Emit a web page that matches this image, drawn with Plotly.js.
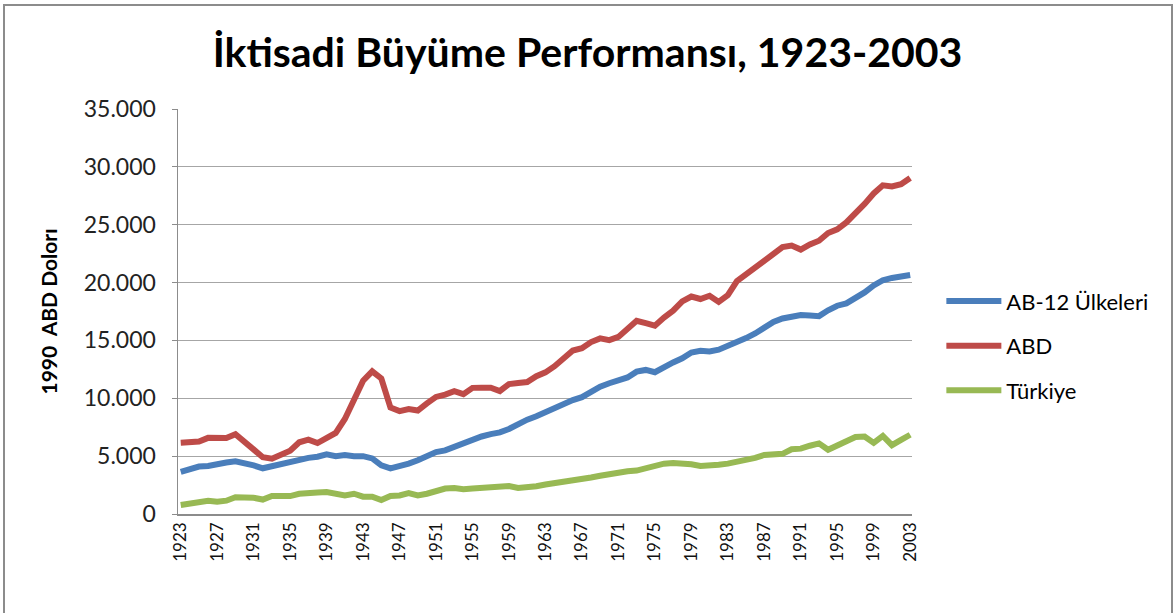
<!DOCTYPE html>
<html><head><meta charset="utf-8">
<script src="https://cdn.plot.ly/plotly-3.0.1.min.js"></script>
<style>
body{margin:0;background:#fff}
#frame{position:absolute;left:3px;top:4px;width:1166px;height:640px;border:2px solid #8c8c8c;pointer-events:none}
</style>
</head><body>
<div id="chart" style="width:1175px;height:613px"></div>
<div id="frame"></div>
<script>
var years = [1923,1924,1925,1926,1927,1928,1929,1930,1931,1932,
1933,1934,1935,1936,1937,1938,1939,1940,1941,1942,
1943,1944,1945,1946,1947,1948,1949,1950,1951,1952,
1953,1954,1955,1956,1957,1958,1959,1960,1961,1962,
1963,1964,1965,1966,1967,1968,1969,1970,1971,1972,
1973,1974,1975,1976,1977,1978,1979,1980,1981,1982,
1983,1984,1985,1986,1987,1988,1989,1990,1991,1992,
1993,1994,1995,1996,1997,1998,1999,2000,2001,2002,2003];

var ab12 = [3650,3850,4100,4150,4350,4450,4550,4400,4200,3950,
4150,4350,4500,4650,4850,4950,5150,5000,5100,5000,
5000,4800,4200,3950,4100,4350,4650,5000,5350,5500,
5800,6100,6450,6700,6900,7050,7350,7800,8150,8450,
8800,9250,9550,9850,10100,10550,11000,11300,11500,11800,
12300,12450,12250,12750,13100,13450,13950,14100,14050,14200,
14500,14800,15200,15600,16100,16600,16900,17000,17200,17150,
17100,17600,18000,18200,18650,19150,19750,20200,20400,20550,20650];

var abd = [6160,6250,6260,6580,6570,6570,6900,6210,5690,4910,
4780,5110,5470,6200,6430,6130,6560,7010,8210,9740,
11520,12330,11710,9200,8890,9070,8940,9560,10120,10320,
10610,10360,10900,10910,10920,10630,11230,11330,11400,11910,
12240,12770,13420,14130,14330,14860,15180,15030,15300,15940,
16690,16490,16280,16980,17570,18370,18790,18580,18860,18330,
18920,20120,20720,21240,21790,22500,23060,23200,22850,23300,
23620,24280,24600,25200,25970,26800,27700,28400,28300,28500,29040];

var turkiye = [780,900,1000,1150,1050,1150,1450,1450,1400,1250,
1550,1550,1550,1750,1750,1850,1900,1750,1600,1750,
1500,1500,1200,1550,1600,1800,1600,1750,2000,2200,
2250,2150,2200,2250,2300,2350,2420,2250,2300,2400,
2550,2650,2800,2900,3050,3150,3300,3450,3600,3700,
3750,3950,4150,4350,4400,4400,4300,4150,4150,4250,
4350,4500,4650,4850,5100,5200,5200,5600,5650,5900,
6100,5550,5950,6350,6650,6700,6150,6750,5950,6400,6850];

var tickYears = [1923,1927,1931,1935,1939,1943,1947,1951,1955,1959,1963,1967,1971,1975,1979,1983,1987,1991,1995,1999,2003];
var tickLabels = ['1923','1927','1931','1935','1939','1943','1947','1951','1955','1959','1963','1967','1971','1975','1979','1983','1987','1991','1995','1999','2003'];

var seriesNames = ['AB-12 Ülkeleri','ABD','Türkiye'];
var seriesColors = ['#4a7ebb','#be4b48','#98b954'];
var seriesData = [ab12, abd, turkiye];

var traces = seriesData.map(function(d,i){
  return {x:years, y:d, type:'scatter', mode:'lines', name:seriesNames[i],
    legendgroup:'g'+i,
    line:{color:seriesColors[i], width:6, shape:'linear'},
    hoverinfo:'skip'};
});

var layout = {
  width:1175, height:613,
  margin:{l:178, r:263, t:109, b:99},
  paper_bgcolor:'#fff', plot_bgcolor:'#fff',
  separators:',.',
  font:{family:'Lato, sans-serif', color:'#000'},
  title:{text:'İktisadi Büyüme Performansı, 1923-2003',
    font:{size:41, family:'Lato, sans-serif', weight:'bold', color:'#000'},
    x:0.5, xref:'container', xanchor:'center',
    y:1-53/613, yref:'container', yanchor:'middle'},
  xaxis:{type:'linear', range:[1922.7,2003.2], tickmode:'array', tickvals:tickYears, ticktext:tickLabels,
    tickangle:-90, tickfont:{size:17, color:'#111'}, showgrid:false, zeroline:false,
    showline:true, linecolor:'#8c8c8c', linewidth:1.5, ticks:'', fixedrange:true},
  yaxis:{range:[0,35000], dtick:5000, tick0:0, tickformat:',d', showgrid:true, gridcolor:'#a6a6a6', gridwidth:1.2,
    zeroline:false, showline:true, linecolor:'#8c8c8c', linewidth:1.5,
    ticks:'outside', ticklen:5, tickcolor:'#8c8c8c', tickfont:{size:23, color:'#222'},
    ticklabelstandoff:11, fixedrange:true,
    title:{text:'1990\u00a0 ABD Dolorı', font:{size:21, weight:'bold', color:'#000'}, standoff:20}},
  legend:{x:1.04, xanchor:'left', y:0.577, yanchor:'top', font:{size:22, color:'#000'},
    itemwidth:55, tracegroupgap:13, traceorder:'grouped', bgcolor:'rgba(0,0,0,0)'},
  showlegend:true
};

Plotly.newPlot('chart', traces, layout, {displayModeBar:false, staticPlot:true});
</script>
</body></html>
